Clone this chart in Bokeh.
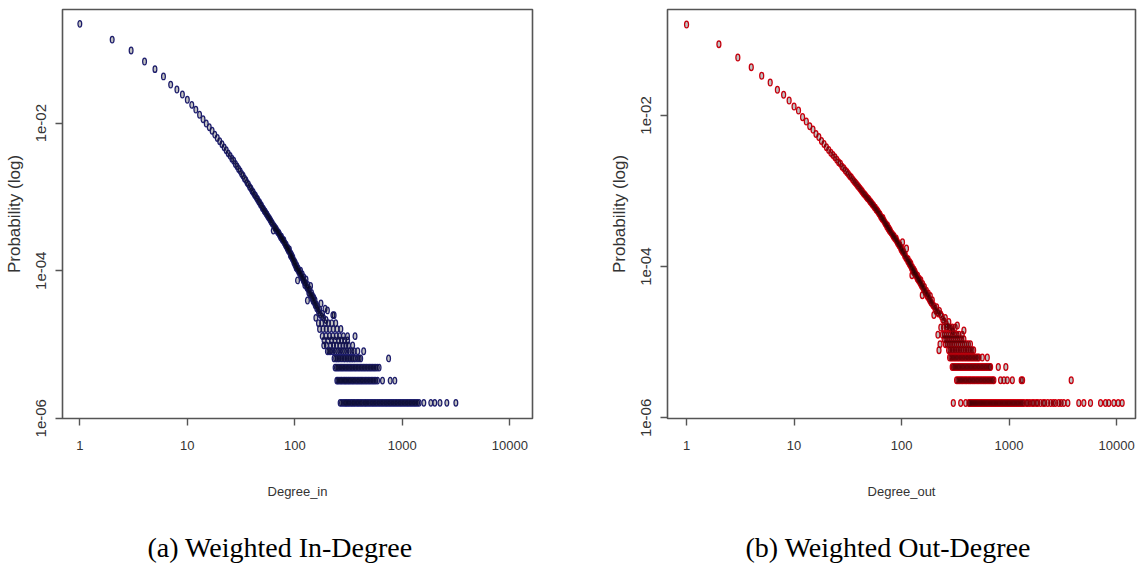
from bokeh.plotting import figure
from bokeh.layouts import row
from bokeh.models import ColumnDataSource, Range1d, FixedTicker, Title, CustomJSTickFormatter
from bokeh.embed import file_html
from bokeh.resources import INLINE

# ---------------- data: weighted in-degree ----------------
in_curve_deg = [1, 2, 3, 4, 5, 6, 7, 8, 9, 10, 11, 12, 13, 14, 15, 16, 17, 18, 19, 20,
                21, 22, 23, 24, 25, 26, 27, 28, 29, 30, 31, 32, 33, 34, 35, 36, 37, 38, 39, 40,
                41, 42, 43, 44, 45, 46, 47, 48, 49, 50, 51, 52, 53, 54, 55, 56, 57, 58, 59, 60]
in_curve_prob = [0.222, 0.136, 0.0966, 0.0686, 0.054, 0.043, 0.0334, 0.0286, 0.0245, 0.0208,
                 0.0177, 0.0153, 0.0130, 0.0113, 0.0099, 0.0088, 0.0079, 0.0070, 0.0063, 0.0057,
                 0.0052, 0.0047, 0.0043, 0.0039, 0.0036, 0.0033, 0.0031, 0.0028, 0.0026, 0.0024,
                 0.00224, 0.00205, 0.00194, 0.00178, 0.00169, 0.00155, 0.00148, 0.00137, 0.00131, 0.00121,
                 0.00116, 0.00108, 0.00104, 0.00097, 0.00093, 0.00087, 0.00084, 0.00079, 0.00076, 0.00071,
                 0.00069, 0.00065, 0.00063, 0.00060, 0.00058, 0.00055, 0.00053, 0.00051, 0.00049, 0.00047]
in_scatter_deg = [61, 62, 63, 64, 65, 66, 67, 68, 69, 70, 71, 72, 73, 74, 75, 76, 77, 78, 79, 80,
                  81, 82, 83, 84, 85, 86, 87, 88, 89, 90, 91, 92, 93, 94, 95, 96, 97, 98, 99, 100,
                  101, 102, 103, 104, 105, 106, 107, 108, 109, 110, 112, 113, 114, 116, 117, 118, 120, 121,
                  123, 124, 126, 127, 129, 130, 131, 132, 134, 135, 137, 138, 140, 141, 143, 145, 146, 148,
                  150, 152, 154, 155, 157, 158, 160, 162, 165, 167, 170, 172, 175, 178, 181, 185, 191, 195,
                  201, 226, 232]
in_scatter_prob = [4.5e-4, 4.35e-4, 3.5e-4, 4.05e-4, 3.9e-4, 3.75e-4, 3.7e-4, 3.5e-4, 3.4e-4, 3.3e-4,
                   3.25e-4, 3.1e-4, 2.95e-4, 2.85e-4, 2.9e-4, 2.7e-4, 2.65e-4, 2.55e-4, 2.6e-4, 2.4e-4,
                   2.35e-4, 2.2e-4, 2.25e-4, 2.1e-4, 2.0e-4, 2.05e-4, 1.9e-4, 1.85e-4, 1.95e-4, 1.75e-4,
                   1.6e-4, 1.7e-4, 1.55e-4, 1.6e-4, 1.45e-4, 1.5e-4, 1.38e-4, 1.3e-4, 1.35e-4, 1.22e-4,
                   1.28e-4, 1.15e-4, 1.1e-4, 1.18e-4, 1.05e-4, 7.4e-5, 1.08e-4, 1.0e-4, 9.5e-5, 9.8e-5,
                   9.0e-5, 1.0e-4, 8.6e-5, 8.2e-5, 9.0e-5, 7.8e-5, 7.4e-5, 8.2e-5,
                   7.0e-5, 6.4e-5, 6.8e-5, 7.6e-5, 6.1e-5, 5.8e-5, 3.95e-5, 6.4e-5, 5.5e-5, 5.0e-5,
                   5.6e-5, 4.8e-5, 6.2e-5, 4.6e-5, 5.0e-5, 4.2e-5, 4.6e-5, 3.9e-5,
                   4.3e-5, 3.7e-5, 4.0e-5, 3.4e-5, 2.3e-5, 3.5e-5, 3.1e-5, 3.3e-5, 2.9e-5, 2.7e-5,
                   3.0e-5, 2.55e-5, 3.6e-5, 2.4e-5, 2.6e-5, 2.3e-5, 3.05e-5, 2.15e-5,
                   2.9e-5, 2.5e-5, 2.5e-5]
in_levels = [1.62e-6, 3.24e-6, 4.86e-6, 6.48e-6, 8.1e-6, 9.72e-6, 1.134e-5, 1.296e-5, 1.62e-5, 1.944e-5]
in_row1 = [264, 272, 281, 290, 298, 305, 314, 322, 333, 341, 352, 361, 373, 384, 395, 407, 419, 431,
           446, 458, 472, 487, 502, 518, 533, 549, 566, 583, 601, 619, 638, 657, 677, 698, 719, 741,
           763, 786, 810, 835, 860, 886, 913, 941, 969, 998, 1029, 1060, 1092, 1125, 1159, 1194, 1230,
           1268, 1306, 1345, 1386, 1433, 1585, 1840, 2005, 2240, 2594, 3148]
in_row2 = [246, 252, 259, 267, 273, 281, 289, 296, 304, 313, 321, 330, 340, 349, 359, 370, 381, 392,
           404, 416, 428, 441, 455, 469, 484, 499, 515, 531, 548, 566, 588, 654, 771, 851]
in_row3 = [237, 244, 251, 258, 266, 274, 282, 291, 300, 309, 319, 329, 339, 350, 361, 372, 384, 396,
           409, 422, 436, 450, 465, 480, 496, 512, 529, 546, 564, 585, 608]
in_row4 = [232, 240, 249, 257, 266, 275, 285, 295, 305, 316, 327, 339, 351, 364, 383, 397, 410, 745]
in_row5 = [201, 208, 215, 226, 238, 250, 263, 277, 290, 305, 322, 340, 356, 385, 437]
in_row6 = [186, 197, 215, 229, 244, 262, 280, 298, 316, 345]
in_row7 = [187, 203, 220, 236, 255, 272, 291, 310]
in_row8 = [180, 195, 210, 226, 243, 261, 283, 309, 363]
in_row10 = [170, 183, 196, 211, 228, 247, 268]
in_row12 = [166, 178, 192, 205, 221, 240]
in_rows = [in_row1, in_row2, in_row3, in_row4, in_row5, in_row6, in_row7, in_row8, in_row10, in_row12]

# ---------------- data: weighted out-degree ----------------
out_curve_deg = [1, 2, 3, 4, 5, 6, 7, 8, 9, 10, 11, 12, 13, 14, 15, 16, 17, 18, 19, 20,
                 21, 22, 23, 24, 25, 26, 27, 28, 29, 30, 31, 32, 33, 34, 35, 36, 37, 38, 39, 40,
                 41, 42, 43, 44, 45, 46, 47, 48, 49, 50, 51, 52, 53, 54, 55, 56, 57, 58, 59, 60]
out_curve_prob = [0.160, 0.0877, 0.0585, 0.0435, 0.0335, 0.0273, 0.0219, 0.0188, 0.0158, 0.0131,
                  0.0116, 0.0095, 0.0083, 0.0072, 0.0065, 0.0057, 0.0052, 0.0046, 0.0042, 0.0038,
                  0.0035, 0.0032, 0.0030, 0.0028, 0.0026, 0.0024, 0.0023, 0.0021, 0.0020, 0.00187,
                  0.00178, 0.00168, 0.00158, 0.00152, 0.00143, 0.00136, 0.00130, 0.00124, 0.00118, 0.00113,
                  0.00108, 0.00103, 0.00099, 0.00094, 0.00091, 0.00088, 0.00084, 0.00081, 0.00079, 0.00076,
                  0.00073, 0.00071, 0.00068, 0.00066, 0.00064, 0.00061, 0.00060, 0.00057, 0.00056, 0.00054]
out_scatter_deg = [61, 62, 63, 64, 65, 66, 67, 68, 69, 70, 71, 72, 73, 74, 75, 76, 77, 78, 79, 80,
                   82, 83, 84, 85, 86, 88, 89, 90, 91, 92, 94, 95, 96, 98, 99, 100, 101, 102, 103, 104,
                   106, 107, 108, 110, 111, 112, 114, 115, 116, 118, 119, 120, 122, 123, 124, 125, 126, 128,
                   129, 130, 132, 133, 135, 136, 138, 140, 141, 143, 145, 146, 148, 150, 151, 153, 155, 156,
                   157, 159, 161, 163, 165, 167, 170, 172, 175, 177, 180, 183, 185, 187, 190, 193, 196, 200,
                   201, 205, 209, 212, 216, 220, 225, 231, 236, 242, 248, 255, 260, 267, 275, 285, 300, 330, 380]
out_scatter_prob = [5.2e-4, 5.0e-4, 4.9e-4, 4.6e-4, 4.5e-4, 4.3e-4, 4.4e-4, 4.1e-4, 4.0e-4, 3.8e-4,
                    3.7e-4, 3.6e-4, 3.4e-4, 3.5e-4, 3.2e-4, 3.25e-4, 3.0e-4, 3.05e-4, 2.9e-4, 2.8e-4,
                    2.7e-4, 2.6e-4, 2.5e-4, 2.55e-4, 2.4e-4, 2.3e-4, 2.35e-4, 2.2e-4, 2.15e-4, 2.05e-4,
                    2.0e-4, 1.9e-4, 1.95e-4, 1.8e-4, 1.7e-4, 1.75e-4, 1.62e-4, 2.1e-4, 1.55e-4, 1.6e-4,
                    1.48e-4, 1.4e-4, 1.45e-4, 1.3e-4, 1.74e-4, 1.28e-4, 1.2e-4, 1.25e-4, 1.15e-4, 1.1e-4,
                    1.15e-4, 1.05e-4, 1.09e-4, 1.0e-4, 9.5e-5, 7.7e-5, 9.8e-5, 9.0e-5,
                    8.6e-5, 9.2e-5, 8.2e-5, 8.6e-5, 7.8e-5, 8.0e-5, 7.4e-5, 7.0e-5, 7.6e-5, 6.7e-5,
                    6.5e-5, 6.9e-5, 6.2e-5, 6.0e-5, 6.6e-5, 5.7e-5, 5.5e-5, 4.2e-5,
                    5.9e-5, 5.2e-5, 5.0e-5, 5.4e-5, 4.7e-5, 4.5e-5, 4.8e-5, 4.2e-5, 4.0e-5, 4.4e-5,
                    3.8e-5, 3.6e-5, 4.1e-5, 3.4e-5, 3.3e-5, 3.6e-5, 3.1e-5, 2.3e-5,
                    3.0e-5, 2.8e-5, 2.6e-5, 2.9e-5, 2.5e-5, 2.4e-5, 2.6e-5, 2.35e-5, 2.2e-5, 2.0e-5,
                    1.9e-5, 2.1e-5, 1.75e-5, 1.6e-5, 1.85e-5, 1.55e-5, 1.4e-5, 1.67e-5, 1.43e-5]
out_levels = [1.57e-6, 3.14e-6, 4.71e-6, 6.28e-6, 7.85e-6, 9.42e-6, 1.1e-5, 1.26e-5, 1.57e-5]
out_row1 = [303, 355, 395, 423, 432, 441, 451, 461, 472, 483, 494, 506, 518, 531, 544, 557, 571, 585,
            600, 615, 631, 647, 664, 681, 699, 717, 736, 755, 775, 796, 817, 839, 862, 885, 909, 934,
            960, 986, 1013, 1041, 1070, 1100, 1131, 1163, 1196, 1230, 1265, 1301, 1338, 1376, 1450,
            1495, 1560, 1640, 1700, 1790, 1850, 1960, 2080, 2150, 2290, 2440, 2580, 2700, 2900, 3050,
            3230, 3520, 4455, 4960, 5720, 7100, 7890, 8470, 9440, 10350, 11270]
out_row2 = [325, 334, 343, 352, 362, 372, 383, 394, 405, 417, 429, 441, 454, 467, 481, 495, 510, 525,
            541, 557, 574, 591, 609, 627, 646, 665, 685, 705, 722, 834, 896, 962, 1072, 1298, 1335, 3785]
out_row3 = [296, 304, 312, 320, 329, 338, 347, 357, 367, 378, 389, 400, 412, 424, 436, 449, 462, 476,
            490, 505, 520, 536, 552, 569, 586, 604, 622, 641, 660, 673, 794, 933]
out_row4 = [280, 288, 296, 305, 314, 323, 333, 343, 354, 365, 376, 388, 400, 412, 425, 438, 452, 466,
            481, 496, 511, 525, 564, 627]
out_row5 = [223, 274, 283, 293, 303, 314, 325, 337, 349, 362, 376, 390, 405, 420, 436, 452, 468]
out_row6 = [228, 256, 266, 277, 288, 300, 312, 325, 339, 353, 368, 384, 400, 418, 437]
out_row7 = [249, 259, 270, 281, 293, 306, 319, 333, 348, 363, 380]
out_row8 = [218, 240, 250, 261, 273, 285, 298, 312, 327, 342, 367]
out_row10 = [232, 246, 262, 278, 296, 315]
out_rows = [out_row1, out_row2, out_row3, out_row4, out_row5, out_row6, out_row7, out_row8, out_row10]

x_ticks = [1, 10, 100, 1000, 10000]
x_tick_labels = ["1", "10", "100", "1000", "10000"]
y_ticks = [1e-2, 1e-4, 1e-6]
y_tick_labels = ["1e-02", "1e-04", "1e-06"]


def gather(curve_x, curve_y, sc_x, sc_y, rows, levels):
    xs = list(curve_x) + list(sc_x)
    ys = list(curve_y) + list(sc_y)
    for r, lv in zip(rows, levels):
        xs += r
        ys += [lv] * len(r)
    return xs, ys


def tick_fmt(vals, labs):
    return CustomJSTickFormatter(args=dict(vals=vals, labs=labs), code="""
        for (let i = 0; i < vals.length; i++) {
            if (Math.abs(Math.log10(vals[i]) - Math.log10(tick)) < 1e-6) { return labs[i]; }
        }
        return "";
    """)


def make_panel(xs, ys, color, xlabel, caption, width, bl, br, xr, yr, ew, eh, cap_offset):
    p = figure(width=width, height=565, x_axis_type="log", y_axis_type="log",
               x_range=Range1d(*xr), y_range=Range1d(*yr),
               output_backend="svg", toolbar_location=None,
               min_border_left=bl, min_border_right=br, min_border_top=9, min_border_bottom=147)
    p.background_fill_color = "white"
    p.border_fill_color = "white"
    p.grid.visible = False
    p.outline_line_color = "#555555"
    p.outline_line_width = 1.6
    p.outline_line_alpha = 1.0

    src = ColumnDataSource(dict(x=xs, y=ys))
    # coloured outlines first, then a faint dark fill on top so that heavily
    # overlapping regions darken as in the original raster
    p.ellipse(x="x", y="y", width=ew, height=eh, width_units="screen", height_units="screen",
              source=src, fill_color=None, line_color=color, line_width=1.25)
    p.ellipse(x="x", y="y", width=ew, height=eh, width_units="screen", height_units="screen",
              source=src, fill_color="black", fill_alpha=0.24, line_color=None)

    for ax in (p.xaxis[0], p.yaxis[0]):
        ax.axis_line_color = None
        ax.major_tick_out = 7
        ax.major_tick_in = 0
        ax.major_tick_line_color = "#555555"
        ax.major_tick_line_width = 1.4
        ax.minor_tick_line_color = None
        ax.major_label_text_color = "#333333"
        ax.axis_label_text_color = "#333333"
        ax.axis_label_text_font_style = "normal"

    xa = p.xaxis[0]
    xa.ticker = FixedTicker(ticks=x_ticks)
    xa.formatter = tick_fmt(x_ticks, x_tick_labels)
    xa.major_label_text_font = "Liberation Sans"
    xa.major_label_text_font_size = "13px"
    xa.major_label_standoff = 15

    ya = p.yaxis[0]
    ya.ticker = FixedTicker(ticks=y_ticks)
    ya.formatter = tick_fmt(y_ticks, y_tick_labels)
    ya.major_label_orientation = "vertical"
    ya.major_label_text_font = "Liberation Sans"
    ya.major_label_text_font_size = "15px"
    ya.major_label_standoff = 9
    ya.axis_label = "Probability (log)"
    ya.axis_label_text_font = "Liberation Sans"
    ya.axis_label_text_font_size = "17px"
    ya.axis_label_standoff = 10

    # x-axis title, centred under the frame
    p.add_layout(Title(text=xlabel, align="center", vertical_align="middle", standoff=61,
                       text_font="Liberation Sans", text_font_size="13px",
                       text_font_style="normal", text_color="#333333"), "below")
    # sub-figure caption
    p.add_layout(Title(text=caption, align="left", offset=cap_offset, standoff=0,
                       vertical_align="middle",
                       text_font="Liberation Serif", text_font_size="28px",
                       text_font_style="normal", text_color="black"), "below")
    return p


in_x, in_y = gather(in_curve_deg, in_curve_prob, in_scatter_deg, in_scatter_prob, in_rows, in_levels)
out_x, out_y = gather(out_curve_deg, out_curve_prob, out_scatter_deg, out_scatter_prob, out_rows, out_levels)

p1 = make_panel(in_x, in_y, "#22227a", "Degree_in", "(a) Weighted In-Degree",
                570, 62, 38, (0.69, 16255), (10 ** -6.003, 0.3475), 3.8, 6.6, 85)
p2 = make_panel(out_x, out_y, "#e00010", "Degree_out", "(b) Weighted Out-Degree",
                569, 97, 4, (0.665, 15000), (10 ** -6.008, 0.252), 4.0, 6.8, 78)

layout = row(p1, p2, spacing=0)
open("out.html", "w").write(file_html(layout, INLINE))
